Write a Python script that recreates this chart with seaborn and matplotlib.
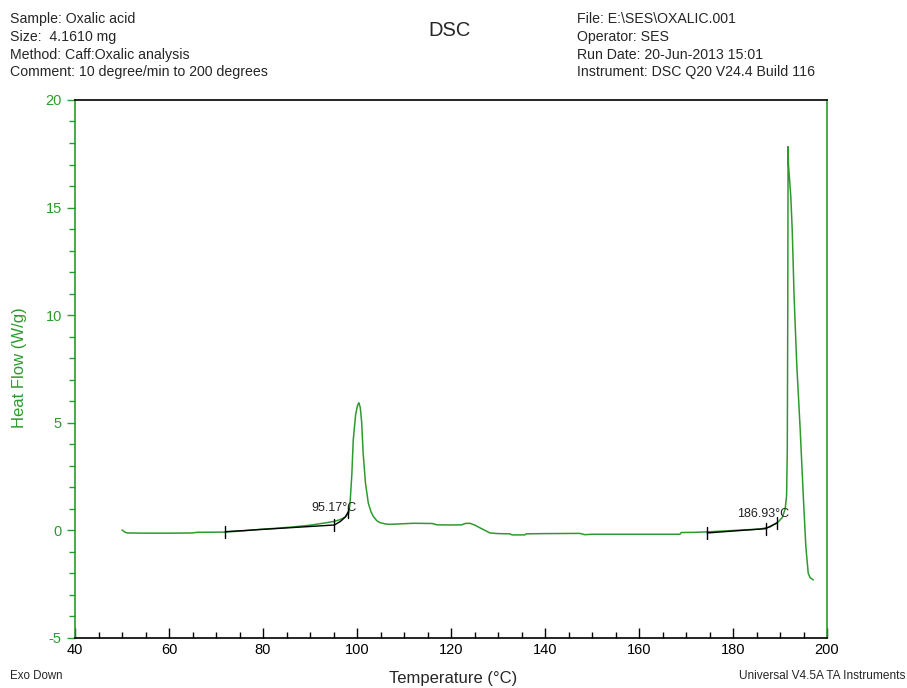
import matplotlib
matplotlib.use("Agg")
import matplotlib.pyplot as plt
from matplotlib.ticker import MultipleLocator
import seaborn as sns
import pandas as pd

# ---- data ----
temperature = [50.0, 50.6, 51.1, 55, 60, 65, 66, 72, 76, 79.4, 83, 86.4, 90, 93.6, 95.2, 96.4,
               97.5, 98.2, 98.5, 98.9, 99.2, 99.7, 100.1, 100.4, 100.7, 101.0, 101.3, 101.8,
               102.4, 103.0, 103.5, 104.2, 104.9, 106, 107, 109, 112, 116, 117, 120, 122.3,
               123, 124, 125, 126.5, 128.3, 130, 132.5, 133, 135.7, 136, 140, 147.4, 148.5,
               150, 155, 160, 165, 168.7, 169, 172, 174.5, 178, 182, 185.7, 187.9, 189.6,
               190.5, 191.1, 191.4, 191.55, 191.65, 191.72, 191.8, 192.3, 192.6, 193.0,
               193.55, 194.3, 194.96, 195.5, 196.0, 196.4, 197.1]
heat_flow = [0.02, -0.08, -0.12, -0.13, -0.13, -0.12, -0.09, -0.08, -0.02, 0.05, 0.1, 0.16,
             0.24, 0.36, 0.42, 0.5, 0.62, 0.8, 1.2, 2.6, 4.2, 5.36, 5.8, 5.93, 5.7, 5.0, 3.6,
             2.2, 1.27, 0.85, 0.64, 0.45, 0.36, 0.3, 0.28, 0.3, 0.33, 0.32, 0.26, 0.25, 0.26,
             0.32, 0.33, 0.25, 0.08, -0.12, -0.15, -0.16, -0.21, -0.21, -0.16, -0.15, -0.14,
             -0.2, -0.18, -0.18, -0.18, -0.18, -0.18, -0.1, -0.09, -0.07, -0.03, 0.02, 0.06,
             0.16, 0.39, 0.6, 1.0, 1.6, 3.7, 10.0, 17.83, 17.0, 15.5, 13.96, 10.86, 7.78,
             4.67, 1.57, -0.76, -1.98, -2.2, -2.3]

# onset construction lines
onset1_T = [72, 95.17, 96.5, 97.5, 98.15]
onset1_HF = [-0.06, 0.25, 0.42, 0.62, 0.87]
onset1_ticks_T = [72, 95.17, 98.15]
onset1_ticks_HF = [-0.06, 0.25, 0.87]
onset1_label = "95.17°C"

onset2_T = [174.5, 186.93, 189.4]
onset2_HF = [-0.12, 0.08, 0.35]
onset2_ticks_T = [174.5, 186.93, 189.4]
onset2_ticks_HF = [-0.12, 0.08, 0.35]
onset2_label = "186.93°C"

header_left = ["Sample: Oxalic acid", "Size:  4.1610 mg", "Method: Caff:Oxalic analysis",
               "Comment: 10 degree/min to 200 degrees"]
header_right = ["File: E:\\SES\\OXALIC.001", "Operator: SES", "Run Date: 20-Jun-2013 15:01",
                "Instrument: DSC Q20 V24.4 Build 116"]

# ---- style ----
sns.set_style("white")
plt.rcParams['font.family'] = ['Liberation Sans', 'DejaVu Sans']
plt.rcParams['axes.unicode_minus'] = False
GREEN = "#2e9a2e"

fig = plt.figure(figsize=(9.07, 6.88), dpi=100)
ax = fig.add_axes([0.0827, 0.0727, 0.8291, 0.782])

df = pd.DataFrame({"Temperature": temperature, "HeatFlow": heat_flow})
sns.lineplot(data=df, x="Temperature", y="HeatFlow", ax=ax, color=GREEN, linewidth=1.1,
             sort=False, estimator=None)

# onset lines
ax.plot(onset1_T, onset1_HF, color="black", linewidth=1.0)
ax.plot(onset2_T, onset2_HF, color="black", linewidth=1.0)
for t, h in zip(onset1_ticks_T + onset2_ticks_T, onset1_ticks_HF + onset2_ticks_HF):
    ax.plot([t, t], [h - 0.28, h + 0.28], color="black", linewidth=1.0)
ax.text(95.1, 1.06, onset1_label, fontsize=9, ha="center", va="center", color="#222222")
ax.text(186.5, 0.76, onset2_label, fontsize=9, ha="center", va="center", color="#222222")

ax.set_xlim(40, 200)
ax.set_ylim(-5, 20)
ax.xaxis.set_major_locator(MultipleLocator(20))
ax.xaxis.set_minor_locator(MultipleLocator(5))
ax.yaxis.set_major_locator(MultipleLocator(5))
ax.yaxis.set_minor_locator(MultipleLocator(1))
ax.tick_params(axis="x", which="both", direction="in", colors="black", labelsize=10.5,
               bottom=True, top=False)
ax.tick_params(axis="x", which="major", length=7, width=1)
ax.tick_params(axis="x", which="minor", length=4, width=1)
ax.tick_params(axis="y", which="both", direction="out", color=GREEN, labelcolor=GREEN,
               labelsize=10.5, left=True, right=False)
ax.tick_params(axis="y", which="major", length=6, width=1)
ax.tick_params(axis="y", which="minor", length=4, width=1)

for side in ["left", "right"]:
    ax.spines[side].set_color(GREEN)
    ax.spines[side].set_linewidth(1.2)
for side in ["top", "bottom"]:
    ax.spines[side].set_color("black")
    ax.spines[side].set_linewidth(1.2)

ax.set_xlabel("")
ax.set_ylabel("")
fig.text(20 / 907, 1 - 368 / 688, "Heat Flow (W/g)", rotation=90, color=GREEN, fontsize=12,
         ha="center", va="center")
fig.text(453 / 907, 1 - 679 / 688, "Temperature (°C)", fontsize=12, ha="center", va="center")
fig.text(10 / 907, 1 - 676 / 688, "Exo Down", fontsize=8.3, ha="left", va="center")
fig.text(905 / 907, 1 - 676 / 688, "Universal V4.5A TA Instruments", fontsize=8.6, ha="right",
         va="center")
fig.text(450 / 907, 1 - 31 / 688, "DSC", fontsize=14.5, ha="center", va="center")

line_y = [19, 37, 55, 72]
for s, y in zip(header_left, line_y):
    fig.text(10 / 907, 1 - y / 688, s, fontsize=10.2, ha="left", va="center")
for s, y in zip(header_right, line_y):
    fig.text(577 / 907, 1 - y / 688, s, fontsize=10.2, ha="left", va="center")

fig.savefig("out.png", dpi=100, facecolor="white")
